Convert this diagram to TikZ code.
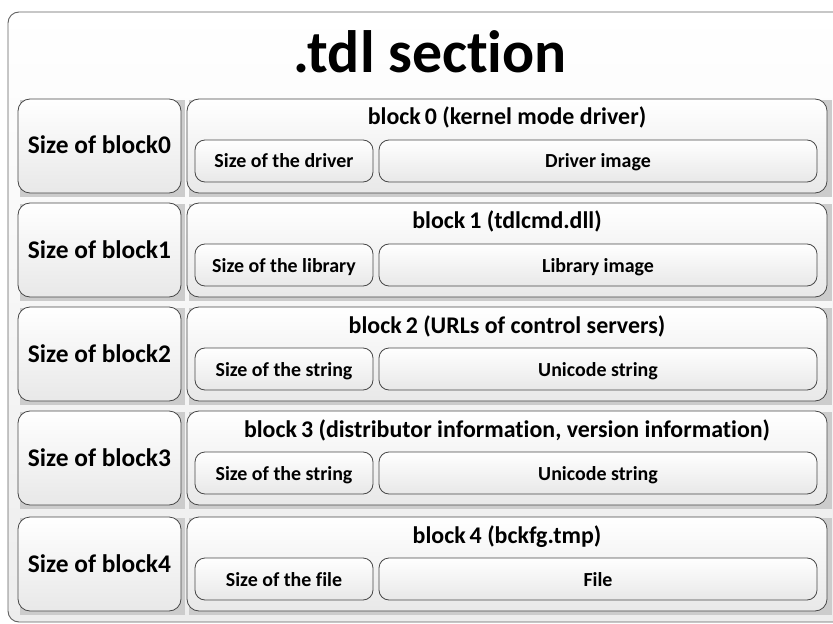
\documentclass[tikz,border=0pt]{standalone}
\usepackage{fontspec}
\setmainfont{Carlito}[RawFeature=-liga]
\begin{document}
\begin{tikzpicture}[x=1bp,y=-1bp,
  frame/.style={draw=black!62, line width=0.9bp, rounded corners=11bp,
    top color=white, bottom color=black!7},
  card/.style={draw=black!72, line width=0.8bp, rounded corners=12bp,
    top color=white, bottom color=black!9, inner sep=0pt},
  cell/.style={draw=black!72, line width=0.8bp, rounded corners=10bp,
    top color=white, bottom color=black!9, inner sep=0pt},
  shade/.style={fill=black!20},
  label/.style={inner sep=0pt, anchor=base},
  headfont/.style={font=\bfseries\fontsize{60}{66}\selectfont},
  sizefont/.style={font=\bfseries\fontsize{25.5}{30}\selectfont},
  blockfont/.style={font=\bfseries\fontsize{24}{28}\selectfont},
  cellfont/.style={font=\bfseries\fontsize{20}{24}\selectfont}]

\useasboundingbox (0,0) rectangle (833,624);
\clip (0,0) rectangle (833,624);

% outer container, running past the right edge
\path[frame] (8,12) rectangle (852,622);
\node[headfont, anchor=base] (head) at (430,73) {.tdl section};

% one row per block: length field on the left, block contents on the right
\foreach \i/\t/\len/\data/\ttl in {
  0/99/{Size of the driver}/{Driver image}/{block\,0 (kernel mode driver)},
  1/203/{Size of the library}/{Library image}/{block\,1 (tdlcmd.dll)},
  2/307/{Size of the string}/{Unicode string}/{block\,2 (URLs of control servers)},
  3/411/{Size of the string}/{Unicode string}/{block\,3 (distributor information, version information)},
  4/517/{Size of the file}/{File}/{block\,4 (bckfg.tmp)}} {
  % flat shadows behind the boxes
  \fill[shade] (20,{\t+1}) rectangle (185,{\t+98});
  \fill[shade] (189,{\t+1}) rectangle (832,{\t+98});
  \fill[shade] (197,{\t+42}) rectangle (378,{\t+87});
  \fill[shade] (381,{\t+42}) rectangle (823,{\t+87});
  % boxes, with their texts set on fixed baselines
  \node[card, minimum width=163bp, minimum height=94bp]
    (sz\i) at (99.5,{\t+47}) {};
  \node[label, sizefont] (szt\i) at (99.5,{\t+55}) {Size of block\i};
  \node[card, minimum width=640bp, minimum height=94bp]
    (blk\i) at (507,{\t+47}) {};
  \node[label, blockfont] (ttl\i) at (507,{\t+26}) {\ttl};
  \node[cell, minimum width=178bp, minimum height=42bp]
    (len\i) at (284,{\t+62}) {};
  \node[label, cellfont] (lent\i) at (284,{\t+69}) {\len};
  \node[cell, minimum width=438bp, minimum height=42bp]
    (dat\i) at (598,{\t+62}) {};
  \node[label, cellfont] (datt\i) at (598,{\t+69}) {\data};
}
\end{tikzpicture}
\end{document}
